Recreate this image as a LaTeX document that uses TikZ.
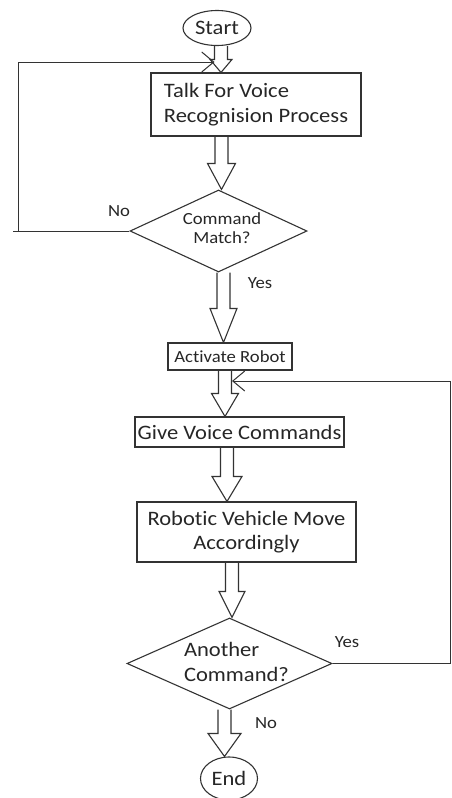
\documentclass[tikz,border=0pt]{standalone}
\usepackage{fontspec}
\setmainfont{Carlito}[FakeStretch=1.1, Ligatures={NoCommon}]
\usetikzlibrary{shapes.geometric,arrows.meta,calc}
\tikzset{
 base/.style={draw=black!80, line width=1.1pt, text=black!85, inner sep=0pt},
 proc/.style={base, rectangle},
 term/.style={base, ellipse},
 dec/.style={base, diamond},
 big/.style={font=\fontsize{20.5}{24.5}\selectfont},
 small/.style={font=\fontsize{17}{19}\selectfont},
 txt/.style={text=black!85, inner sep=0pt},
 lbl/.style={text=black!85, inner sep=0pt, font=\fontsize{17}{19}\selectfont},
 line/.style={draw=black!80, line width=1pt},
 barrow/.style 2 args={draw=black!80, line width=1.1pt,
   to path={let \p1=(\tikztostart), \p2=(\tikztotarget) in
     (\x1-6.5pt,\y1) -- (\x1-6.5pt,\y2+#2) -- (\x1-#1/2,\y2+#2) -- (\x1,\y2)
     -- (\x1+#1/2,\y2+#2) -- (\x1+6.5pt,\y2+#2) -- (\x1+6.5pt,\y1)}},
 tipb/.style={-{Straight Barb[length=12pt,width=20pt]}},
}
\begin{document}
\begin{tikzpicture}[x=1pt,y=-1pt]
\useasboundingbox (0,0) rectangle (452,798);
% nodes
\node[term, big, minimum width=68pt, minimum height=35pt] (start) at (217,28) {Start};
\node[proc, big, align=left, minimum width=210pt, minimum height=63pt] (talk) at (256,104.5) {Talk For Voice\\Recognision Process};
\node[dec, minimum width=177pt, minimum height=82pt] (d1) at (218.5,231) {};
\node[txt, small, align=center] (d1t) at (222,228.5) {Command\\Match?};
\node[proc, small, minimum width=124pt, minimum height=27pt] (act) at (230,356.5) {Activate Robot};
\node[proc, big, minimum width=209pt, minimum height=30pt] (give) at (239.5,432) {Give Voice Commands};
\node[proc, big, align=center, minimum width=219pt, minimum height=60pt] (robot) at (246.5,532) {Robotic Vehicle Move\\Accordingly};
\node[dec, minimum width=205pt, minimum height=91pt] (d2) at (229.5,663.5) {};
\node[txt, align=left, font=\fontsize{20.5}{25}\selectfont] (d2t) at (236.5,661.5) {Another\\Command?};
\node[term, big, minimum width=57pt, minimum height=43pt] (end) at (229,778.5) {End};
% labels
\node[lbl] (no1) at (119,211) {No};
\node[lbl] (yes1) at (260,283) {Yes};
\node[lbl] (yes2) at (347,642) {Yes};
\node[lbl] (no2) at (266,723) {No};
% block arrows
\draw[barrow={22pt}{13pt}] ([xshift=4pt]start.south) to (talk.north);
\draw[barrow={28pt}{26pt}] ([xshift=-34.5pt]talk.south) to (d1.north);
\draw[barrow={27pt}{34pt}] ([xshift=5pt]d1.south) to (act.north);
\draw[barrow={27pt}{23pt}] ([xshift=-5pt]act.south) to (give.north);
\draw[barrow={30pt}{25pt}] ([xshift=-12.5pt]give.south) to (robot.north);
\draw[barrow={26pt}{26pt}] ([xshift=-14.5pt]robot.south) to (d2.north);
\draw[barrow={33pt}{23pt}] ([xshift=-5pt]d2.south) to (end.north);
% feedback loops
\coordinate (noEnd) at (13,231);
\coordinate (noL) at (18,231);
\coordinate (talkIn) at (214.5,62);
\draw[line] (d1.west) -- (noEnd);
\draw[line, tipb] (noL) |- (talkIn);
\coordinate (yesR) at (450,381);
\coordinate (actIn) at (232,381);
\draw[line, tipb] (d2.east) -| (yesR) -- (actIn);
\end{tikzpicture}
\end{document}
